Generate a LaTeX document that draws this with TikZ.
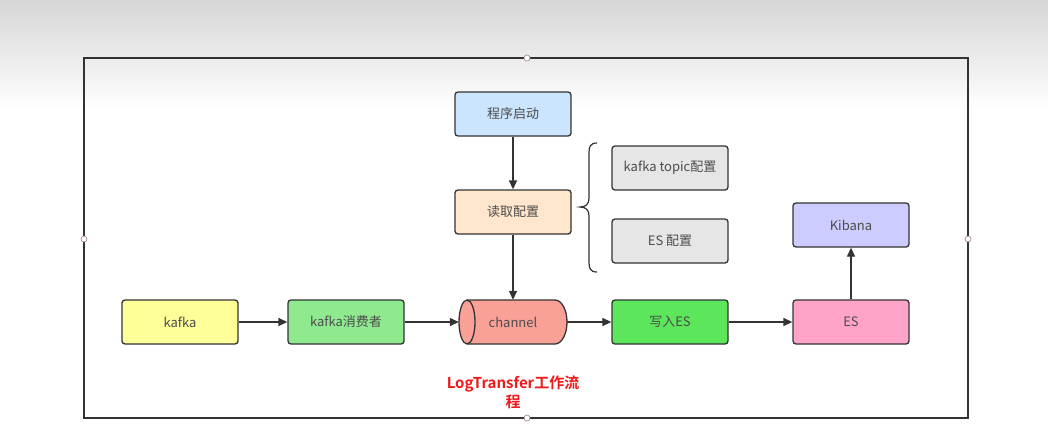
\documentclass[tikz,border=0pt]{standalone}
\usepackage{fontspec}
\setmainfont{Noto Sans CJK SC}[BoldFont={Noto Sans CJK SC Bold}]
\usetikzlibrary{arrows.meta}
\definecolor{edge}{HTML}{333333}
\definecolor{cblue}{HTML}{CCE5FF}
\definecolor{corange}{HTML}{FFE6CC}
\definecolor{cgray}{HTML}{E6E6E6}
\definecolor{cyellow}{HTML}{FFFF99}
\definecolor{clgreen}{HTML}{8FEA8F}
\definecolor{csalmon}{HTML}{F9A097}
\definecolor{cgreen}{HTML}{5BE65B}
\definecolor{cpink}{HTML}{FFA4C8}
\definecolor{cviolet}{HTML}{CCCCFF}
\definecolor{ctitle}{HTML}{F01818}
\definecolor{handle}{HTML}{A08080}
\tikzset{
  box/.style={draw=edge, line width=1.3pt, rounded corners=3pt, minimum width=116pt, minimum height=44pt, inner sep=0pt, font=\fontsize{13}{15}\selectfont, text=black!70},
  flow/.style={draw=edge, line width=1.3pt, -{Triangle[length=9pt,width=8pt]}},
  hnd/.style={circle, draw=handle, fill=white, line width=0.6pt, minimum size=6pt, inner sep=0pt}
}
\begin{document}
\begin{tikzpicture}[x=1pt,y=-1pt]
\useasboundingbox (0,0) rectangle (1048,445);
\shade[top color=black!16, bottom color=white] (0,0) rectangle (1048,110);
\fill[white] (0,110) rectangle (1048,445);
% frame
\draw[edge, line width=1.5pt] (84,58) rectangle (968,418);
\node[hnd] (h1) at (527,58) {};
\node[hnd] (h2) at (84,239) {};
\node[hnd] (h3) at (968,239) {};
\node[hnd] (h4) at (527,418) {};
% nodes
\node[box, fill=cblue] (start) at (513,114) {程序启动};
\node[box, fill=corange] (read) at (513,212) {读取配置};
\node[box, fill=cgray] (topic) at (670,168) {kafka topic配置};
\node[box, fill=cgray] (escfg) at (670,241) {ES 配置};
\node[box, fill=cyellow] (kafka) at (180,322) {kafka};
\node[box, fill=clgreen] (cons) at (346,322) {kafka消费者};
\node[box, fill=cgreen] (write) at (670,322) {写入ES};
\node[box, fill=cpink] (es) at (851,322) {ES};
\node[box, fill=cviolet] (kib) at (851,225) {Kibana};
% channel cylinder (y axis points down: angle -90 is up)
\path[draw=edge, line width=1.3pt, fill=csalmon]
  (467,300) -- (555,300) arc[start angle=-90, end angle=90, x radius=12, y radius=22]
  -- (467,344) arc[start angle=90, end angle=270, x radius=8, y radius=22] -- cycle;
\draw[edge, line width=1.3pt] (467,300) arc[start angle=-90, end angle=90, x radius=8, y radius=22];
\node[minimum width=108pt, minimum height=44pt, inner sep=0pt, font=\fontsize{13}{15}\selectfont, text=black!70] (ch) at (513,322) {channel};
% brace
\draw[edge, line width=1.2pt] (597,143) .. controls (590,143) and (589,147) .. (589,153) -- (589,198)
  .. controls (589,204) and (586,207) .. (580,207) .. controls (586,207) and (589,210) .. (589,216)
  -- (589,262) .. controls (589,268) and (590,272) .. (597,272);
% arrows
\draw[flow] (start) -- (read);
\draw[flow] (read) -- (ch.north);
\draw[flow] (kafka) -- (cons);
\draw[flow] (cons) -- (ch.west);
\draw[flow] (ch.east) -- (write);
\draw[flow] (write) -- (es);
\draw[flow] (es) -- (kib);
% title
\node[font=\fontsize{15}{19}\selectfont\bfseries, text=ctitle, align=center] (title) at (513,392) {LogTransfer工作流\\程};
\end{tikzpicture}
\end{document}
